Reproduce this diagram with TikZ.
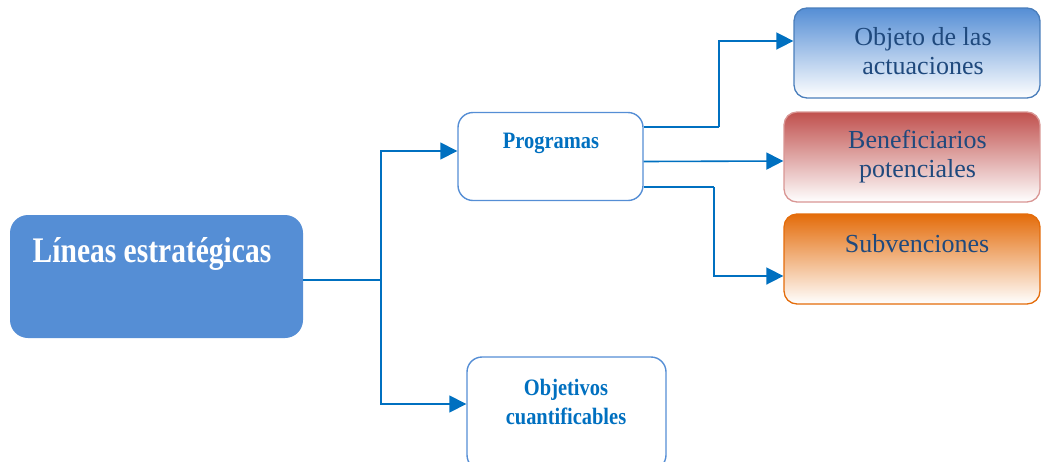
\documentclass[tikz,border=0pt]{standalone}
\usepackage{fontspec}
\setmainfont{Liberation Serif}
\newfontfamily\bcondA[FakeStretch=0.82]{Liberation Serif}
\newfontfamily\bcondB[FakeStretch=0.87]{Liberation Serif}
\usetikzlibrary{arrows.meta}
\definecolor{boxblue}{RGB}{85,142,213}
\definecolor{conblue}{RGB}{0,112,192}
\definecolor{txtblue}{RGB}{31,73,125}
\definecolor{objborder}{RGB}{74,126,187}
\definecolor{benred}{RGB}{192,80,77}
\definecolor{benborder}{RGB}{217,150,148}
\definecolor{suborange}{RGB}{228,108,10}
\tikzset{
  conn/.style={draw=conblue, line width=1.6pt},
  arr/.style={conn, -{Triangle[length=17pt,width=17pt]}},
  whitebox/.style={draw=boxblue, line width=1.4pt, fill=white, rounded corners=15pt, inner sep=0pt},
  gradbox/.style={line width=1.3pt, rounded corners=13pt, inner sep=0pt, minimum width=256pt, minimum height=90pt, bottom color=white},
  rtext/.style={anchor=base, text=txtblue, font=\fontsize{26}{29}\selectfont, inner sep=0pt},
  btext/.style={anchor=base, text=conblue, font=\bcondB\bfseries\fontsize{23.5}{28}\selectfont, inner sep=0pt},
}
\begin{document}
\begin{tikzpicture}[x=1pt,y=-1pt]
\useasboundingbox (0,0) rectangle (1041,461);
% boxes
\node[fill=boxblue, rounded corners=18pt, minimum width=293pt, minimum height=123pt, inner sep=0pt] (lin) at (156.5,276.5) {};
\node[whitebox, minimum width=185pt, minimum height=88pt] (prog) at (550.5,156.5) {};
\node[whitebox, minimum width=199pt, minimum height=113pt] (obj) at (566.5,413.5) {};
\node[gradbox, draw=objborder, top color=boxblue, minimum width=246pt] (objeto) at (917,53) {};
\node[gradbox, draw=benborder, top color=benred] (ben) at (912,157) {};
\node[gradbox, draw=suborange, top color=suborange] (sub) at (912,259) {};
% texts
\node[anchor=base, text=white, inner sep=0pt, font=\bcondA\bfseries\fontsize{36}{40}\selectfont] (tlin) at (152,262.7) {Líneas estratégicas};
\node[btext] (tprog) at (551,148.3) {Programas};
\node[btext] (tobj1) at (566,395) {Objetivos};
\node[btext] (tobj2) at (566,424) {cuantificables};
\node[rtext] (tobjeto1) at (923,45) {Objeto de las};
\node[rtext] (tobjeto2) at (923,74) {actuaciones};
\node[rtext] (tben1) at (917.5,148.3) {Beneficiarios};
\node[rtext] (tben2) at (917.5,177) {potenciales};
\node[rtext] (tsub) at (917,252.3) {Subvenciones};
% connectors
\coordinate (j1) at (381,280);
\coordinate (j2) at (719,127);
\coordinate (j3) at (714,187);
\draw[conn] (lin.east |- j1) -- (j1);
\draw[arr] (j1) |- (prog.west |- 0,151);
\draw[arr] (j1) |- (obj.west |- 0,404);
\draw[conn] (prog.east |- j2) -- (j2);
\draw[arr] (j2) |- (objeto.west |- 0,41);
\draw[arr] (prog.east |- 0,161.5) -- (ben.west |- 0,161);
\draw[conn] (prog.east |- j3) -- (j3);
\draw[arr] (j3) |- (sub.west |- 0,276);
\end{tikzpicture}
\end{document}
